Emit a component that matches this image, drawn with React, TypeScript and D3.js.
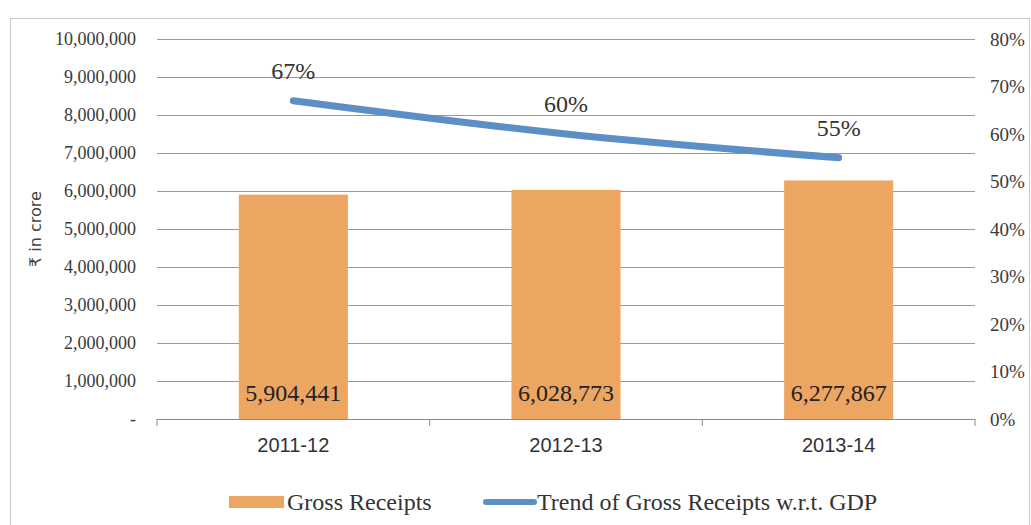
import React from "react";
import * as d3 from "d3";

const categories = ["2011-12", "2012-13", "2013-14"];
const grossReceipts = [5904441, 6028773, 6277867];
const trendPct = [67, 60, 55];
const leftTicks = [0, 1000000, 2000000, 3000000, 4000000, 5000000, 6000000, 7000000, 8000000, 9000000, 10000000];
const rightTicks = [0, 10, 20, 30, 40, 50, 60, 70, 80];

const W = 1031;
const H = 525;
const M = { left: 157, right: 975, top: 39, bottom: 419 };

export default function App() {
  const x = d3.scaleBand<string>().domain(categories).range([M.left, M.right]).paddingInner(0.6).paddingOuter(0.3);
  const xc = (c: string) => (x(c) as number) + x.bandwidth() / 2;
  const yL = d3.scaleLinear().domain([0, 10000000]).range([M.bottom, M.top]);
  const yR = d3.scaleLinear().domain([0, 80]).range([M.bottom, M.top]);
  const fmt = d3.format(",");
  const line = d3
    .line<number>()
    .x((_, i) => xc(categories[i]))
    .y((d) => yR(d))
    .curve(d3.curveMonotoneX);
  const step = (M.right - M.left) / categories.length;
  const serif = "Liberation Serif";
  const sans = "Liberation Sans";
  return (
    <svg width={W} height={H} style={{ position: "absolute", left: 0, top: 0, background: "#fff" }}>
      <rect x={10.5} y={18.5} width={1019} height={520} fill="none" stroke="#c8c8c8" strokeWidth={1} />
      {leftTicks.slice(1).map((t) => (
        <line key={t} x1={M.left} x2={M.right} y1={yL(t) + 0.5} y2={yL(t) + 0.5} stroke="#9a9a9a" strokeWidth={1} />
      ))}
      {leftTicks.map((t) => (
        <text key={"l" + t} x={136} y={yL(t)} dy="0.35em" textAnchor="end" fontFamily={serif} fontSize={18} fill="#3a3a3a">
          {t === 0 ? "-" : fmt(t)}
        </text>
      ))}
      {rightTicks.map((t) => (
        <text key={"r" + t} x={990} y={yR(t)} dy="0.35em" textAnchor="start" fontFamily={serif} fontSize={19} fill="#3a3a3a">
          {t + "%"}
        </text>
      ))}
      <text transform={`translate(41,${(M.top + M.bottom) / 2}) rotate(-90)`} textAnchor="middle" fontFamily="DejaVu Sans" fontSize={16} fill="#444">
        ₹ in crore
      </text>
      {categories.map((c, i) => (
        <rect key={c} x={x(c)} y={yL(grossReceipts[i])} width={x.bandwidth()} height={M.bottom - yL(grossReceipts[i])} fill="#eda562" />
      ))}
      <line x1={M.left} x2={M.right} y1={M.bottom + 0.5} y2={M.bottom + 0.5} stroke="#8a8a8a" strokeWidth={1} />
      {d3.range(categories.length + 1).map((i) => (
        <line key={"t" + i} x1={M.left + i * step} x2={M.left + i * step} y1={M.bottom} y2={M.bottom + 7} stroke="#8a8a8a" strokeWidth={1} />
      ))}
      {categories.map((c, i) => (
        <text key={"v" + c} x={xc(c)} y={401} textAnchor="middle" fontFamily={serif} fontSize={24} fill="#222">
          {fmt(grossReceipts[i])}
        </text>
      ))}
      {categories.map((c) => (
        <text key={"c" + c} x={xc(c)} y={452} textAnchor="middle" fontFamily={sans} fontSize={20} fill="#333">
          {c}
        </text>
      ))}
      <path d={line(trendPct) || ""} fill="none" stroke="#5b8fc5" strokeWidth={7} strokeLinecap="round" />
      {categories.map((c, i) => (
        <text key={"p" + c} x={xc(c)} y={yR(trendPct[i]) - 22} textAnchor="middle" fontFamily={serif} fontSize={24} fill="#333">
          {trendPct[i] + "%"}
        </text>
      ))}
      <rect x={229} y={496} width={55} height={12} fill="#eda562" />
      <text x={287} y={510} fontFamily={serif} fontSize={24} fill="#333">Gross Receipts</text>
      <line x1={486} x2={534} y1={502} y2={502} stroke="#5b8fc5" strokeWidth={6} strokeLinecap="round" />
      <text x={537} y={510} fontFamily={serif} fontSize={24} fill="#333">Trend of Gross Receipts w.r.t. GDP</text>
    </svg>
  );
}
